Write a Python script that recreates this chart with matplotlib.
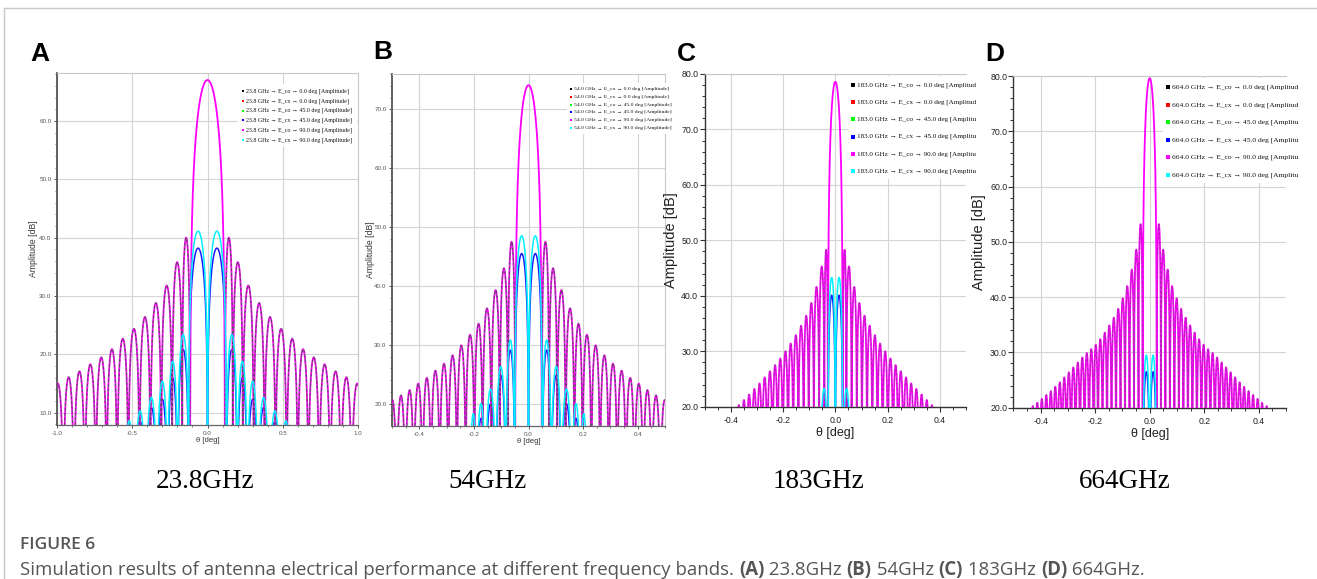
import numpy as np
import matplotlib
matplotlib.use("Agg")
import matplotlib.pyplot as plt
from matplotlib.ticker import MultipleLocator, FormatStrFormatter
from matplotlib.patches import Rectangle
from matplotlib.lines import Line2D
from matplotlib import font_manager

# ---------------- data ----------------
# Panel A : 23.8 GHz
A_main_peak = 67.0
A_main_null = 0.116
A_co_nulls = [0.116, 0.168, 0.235, 0.307, 0.379, 0.452, 0.526, 0.600, 0.670, 0.742, 0.815, 0.887, 0.958, 1.030]
A_co_peaks = [40.0, 35.8, 31.8, 28.8, 26.4, 24.4, 22.7, 20.9, 19.5, 18.3, 17.1, 16.1, 15.0]
A_cx_nulls = [0.0, 0.125, 0.198, 0.265, 0.335, 0.410, 0.485, 0.555]
A_cx90_peaks = [41.1, 23.4, 18.8, 15.4, 12.6, 10.3, 8.6]
A_cx45_peaks = [38.2, 20.8, 16.0, 12.3, 10.9, 8.5, 7.0]

# Panel B : 54 GHz
B_main_peak = 74.1
B_main_null = 0.049
B_co_nulls = [0.049, 0.075, 0.105, 0.136, 0.168, 0.198, 0.230, 0.262, 0.294, 0.325, 0.357, 0.388, 0.420, 0.451, 0.483, 0.514]
B_co_peaks = [47.5, 43.0, 39.3, 36.2, 33.6, 31.7, 29.9, 28.2, 26.8, 25.6, 24.4, 23.4, 22.3, 21.4, 20.6]
B_cx_nulls = [0.0, 0.050, 0.083, 0.120, 0.158, 0.190, 0.215]
B_cx90_peaks = [48.5, 30.8, 26.3, 22.5, 20.0, 18.3]
B_cx45_peaks = [45.5, 29.1, 24.8, 20.0, 17.5, 16.0]

# Panel C : 183 GHz
C_main_peak = 78.6
C_main_null = 0.0285
C_co_nulls = [0.0285, 0.042, 0.062, 0.082, 0.1015, 0.121, 0.141, 0.161, 0.1805, 0.2005, 0.2205,
              0.240, 0.260, 0.280, 0.2995, 0.3195, 0.3395, 0.359, 0.379]
C_co_peaks = [48.3, 45.3, 41.6, 38.7, 36.4, 34.6, 32.9, 31.4, 30.0, 28.7, 27.5, 26.4, 25.3, 24.2,
              23.2, 22.2, 21.2, 20.3]
C_cx_nulls = [0.0, 0.028, 0.058]
C_cx90_peaks = [43.3, 23.3]
C_cx45_peaks = [40.1, 21.5]

# Panel D : 664 GHz
D_main_peak = 79.6
D_main_null = 0.026
D_co_nulls = [0.026, 0.041, 0.0575, 0.074, 0.0905, 0.107, 0.1235, 0.140, 0.1565, 0.173, 0.1895,
              0.206, 0.2225, 0.239, 0.2555, 0.272, 0.2885, 0.305, 0.3215, 0.338, 0.3545, 0.371,
              0.3875, 0.404, 0.4205, 0.437]
D_co_peaks = [53.2, 48.6, 45.0, 42.0, 39.8, 37.9, 36.3, 34.9, 33.6, 32.4, 31.4, 30.6, 29.9, 29.1,
              28.2, 27.3, 26.4, 25.5, 24.6, 23.8, 23.0, 22.3, 21.6, 20.9, 20.3]
D_cx_nulls = [0.0, 0.025]
D_cx90_peaks = [29.5]
D_cx45_peaks = [26.5]

freq_labels = ["23.8", "54.0", "183.0", "664.0"]
sub_captions = ["23.8GHz", "54GHz", "183GHz", "664GHz"]
panel_letters = ["A", "B", "C", "D"]
series_names = ["E_co \u2192 0.0", "E_cx \u2192 0.0", "E_co \u2192 45.0",
                "E_cx \u2192 45.0", "E_co \u2192 90.0", "E_cx \u2192 90.0"]
series_colors = ["#000000", "#ff0000", "#00ff00", "#0000ff", "#ff00ff", "#00ffff"]
# the legend text in C and D is cut off by the plotting tool
legend_tail_full = ["[Amplitude]"] * 6
legend_tail_cut = ["[Amplitud", "[Amplitud", "[Amplitu", "[Amplitu", "[Amplitu", "[Amplitu"]

# ---------------- rendering helpers ----------------
W, H = 1317, 579
fig = plt.figure(figsize=(W / 100, H / 100), dpi=100)
fig.patch.set_facecolor("white")
renderer = fig.canvas.get_renderer()


def rect(l, r, t, b):
    return [l / W, 1 - b / H, (r - l) / W, (b - t) / H]


def lobes(xa, nulls, peaks, out):
    for i, p in enumerate(peaks):
        a, b = nulls[i], nulls[i + 1]
        m = (xa >= a) & (xa <= b)
        t = (xa[m] - a) / (b - a)
        out[m] = p + 20 * np.log10(np.clip(np.sin(np.pi * t), 1e-4, 1))
    return out


def pattern_co(x, peak, null, nulls, peaks, k=1.6):
    xa = np.abs(x)
    y = np.full_like(x, np.nan)
    m = xa <= null
    t = (x[m] + null) / (2 * null)
    y[m] = peak + k * 20 * np.log10(np.clip(np.sin(np.pi * t), 1e-4, 1))
    return lobes(xa, nulls, peaks, y)


def pattern_cx(x, nulls, peaks):
    return lobes(np.abs(x), nulls, peaks, np.full_like(x, np.nan))


def fig_text(px, py, s, **kw):
    return fig.text(px / W, 1 - py / H, s, **kw)


def fit_width(t, target):
    w = t.get_window_extent(renderer=renderer).width
    t.set_fontsize(t.get_fontsize() * target / w)


panels = [
    dict(r=rect(57, 358, 73, 425), xlim=(-1.0, 1.0), ylim=(7.9, 68.2),
         mp=A_main_peak, mn=A_main_null, cn=A_co_nulls, cp=A_co_peaks,
         xn=A_cx_nulls, x90=A_cx90_peaks, x45=A_cx45_peaks, k=1.6,
         small=True, xmaj=0.5, xmin=0.1,
         leg=(243, 91, 9.8, 103, 1.8), box=(238, 84, 357, 146), lw=1.1),
    dict(r=rect(392, 665, 74, 426), xlim=(-0.5, 0.5), ylim=(16.2, 76.0),
         mp=B_main_peak, mn=B_main_null, cn=B_co_nulls, cp=B_co_peaks,
         xn=B_cx_nulls, x90=B_cx90_peaks, x45=B_cx45_peaks, k=1.6,
         small=True, xmaj=0.2, xmin=0.05,
         leg=(571, 89, 7.8, 94, 1.8), box=(567, 83, 668, 134), lw=1.1),
    dict(r=rect(704.5, 966.2, 74, 406.7), xlim=(-0.5, 0.5), ylim=(20, 80),
         mp=C_main_peak, mn=C_main_null, cn=C_co_nulls, cp=C_co_peaks,
         xn=C_cx_nulls, x90=C_cx90_peaks, x45=C_cx45_peaks, k=1.7,
         small=False, xmaj=0.2, xmin=0.05,
         leg=(853, 85, 17.2, 121, 3.2), box=(848, 76, 980, 179), lw=1.1),
    dict(r=rect(1013.4, 1286, 76, 407.7), xlim=(-0.5, 0.5), ylim=(20, 80),
         mp=D_main_peak, mn=D_main_null, cn=D_co_nulls, cp=D_co_peaks,
         xn=D_cx_nulls, x90=D_cx90_peaks, x45=D_cx45_peaks, k=1.7,
         small=False, xmaj=0.2, xmin=0.05,
         leg=(1168, 87.3, 17.5, 126, 3.2), box=(1163, 78, 1300, 183), lw=1.1),
]

SERIF = ["Liberation Serif", "DejaVu Serif"]
SANS = ["Liberation Sans", "DejaVu Sans"]

for i, P in enumerate(panels):
    ax = fig.add_axes(P["r"])
    x = np.linspace(P["xlim"][0], P["xlim"][1], 40001)
    co = pattern_co(x, P["mp"], P["mn"], P["cn"], P["cp"], P["k"])
    c90 = pattern_cx(x, P["xn"], P["x90"])
    c45 = pattern_cx(x, P["xn"], P["x45"])
    side = np.where(np.abs(x) > P["mn"], co, np.nan)

    ax.plot(x, c45, color="#1a1aff", lw=P["lw"], zorder=2)
    ax.plot(x, co, color="#ff00ff", lw=P["lw"] + 0.2, zorder=3)
    da = 0.7 if P["small"] else 0.3
    ax.plot(x, side, color="#00c000", lw=0.7, ls=(1.5, (2.0, 3.0)), alpha=da, zorder=3.2)
    ax.plot(x, side, color="#333333", lw=0.7, ls=(0, (2.0, 3.0)), alpha=da, zorder=3.3)
    ax.plot(x, c90, color="#00f0ff", lw=P["lw"], zorder=4)

    ax.set_xlim(*P["xlim"])
    ax.set_ylim(*P["ylim"])
    ax.grid(True, color="#d4d4d4", lw=0.8, zorder=0)
    ax.set_axisbelow(True)
    ax.xaxis.set_major_locator(MultipleLocator(P["xmaj"]))
    ax.xaxis.set_minor_locator(MultipleLocator(P["xmin"]))
    ax.yaxis.set_major_locator(MultipleLocator(10))
    ax.yaxis.set_minor_locator(MultipleLocator(2))
    ax.xaxis.set_major_formatter(FormatStrFormatter("%.1f"))
    ax.yaxis.set_major_formatter(FormatStrFormatter("%.1f"))
    for s in ["top", "right"]:
        ax.spines[s].set_color("#c8c8c8")
        ax.spines[s].set_linewidth(0.8)
    if P["small"]:
        ax.spines["left"].set_color("#555555")
        ax.spines["left"].set_linewidth(1.3)
        ax.spines["bottom"].set_color("#666666")
        ax.spines["bottom"].set_linewidth(0.9)
        ax.tick_params(which="major", length=2.5, width=0.7, color="#555555",
                       labelsize=4.5, labelcolor="#555555", pad=1.5)
        ax.tick_params(which="minor", length=1.5, width=0.6, color="#666666")
        for lab in ax.get_xticklabels() + ax.get_yticklabels():
            lab.set_family(SANS)
        ax.set_ylabel("Amplitude [dB]", fontsize=6.2, color="#333333", family=SANS)
        ax.set_xlabel("\u03b8 [deg]", fontsize=5.5, color="#333333", family=SANS, labelpad=1)
        ax.yaxis.set_label_coords(-0.062, 0.5)
        tails = legend_tail_full
    else:
        ax.spines["right"].set_visible(False)
        ax.spines["left"].set_color("#333333")
        ax.spines["left"].set_linewidth(1.0)
        ax.spines["bottom"].set_color("#333333")
        ax.spines["bottom"].set_linewidth(1.0)
        ax.tick_params(which="major", length=3.5, width=0.8, color="#333333",
                       labelsize=6.3, labelcolor="#222222", pad=1.0)
        ax.tick_params(which="minor", length=2.0, width=0.7, color="#333333")
        ax.tick_params(axis="x", which="major", pad=3.5)
        for lab in ax.get_xticklabels() + ax.get_yticklabels():
            lab.set_family(SANS)
        ax.set_ylabel("Amplitude [dB]", fontsize=10.5, color="#222222", family=SANS)
        ax.set_xlabel("\u03b8 [deg]", fontsize=9, color="#222222", family=SANS, labelpad=1)
        ax.yaxis.set_label_coords(-0.10, 0.5)
        tails = legend_tail_cut

    # legend (drawn as in the source tool: coloured squares + text)
    bx0, by0, bx1, by1 = P["box"]
    fig.add_artist(Rectangle((bx0 / W, 1 - by1 / H), (bx1 - bx0) / W, (by1 - by0) / H,
                             transform=fig.transFigure, facecolor="white", edgecolor="none",
                             zorder=5))
    lx, ly, dy, tw, ms = P["leg"]
    fs = None
    for j, (nm, col) in enumerate(zip(series_names, series_colors)):
        yy = 1 - (ly + j * dy) / H
        fig.add_artist(Line2D([lx / W], [yy], marker="s", ms=ms, color=col, mew=0,
                              transform=fig.transFigure, zorder=6))
        t = fig.text(lx / W + (ms * 0.9 + 1.5) / W, yy,
                     f"{freq_labels[i]} GHz \u2192 {nm} deg {tails[j]}",
                     fontsize=5, va="center", ha="left",
                     family=SERIF, color="#111111", zorder=6)
        if fs is None:
            fit_width(t, tw)
            fs = t.get_fontsize()
        else:
            t.set_fontsize(fs)

# panel letters
for (px, py), L in zip([(30, 61), (373, 59), (677, 61), (985, 61)], panel_letters):
    fig_text(px, py, L, fontsize=19, fontweight="bold", family=SANS, va="baseline")

# sub captions
for cx, s in zip([205, 488, 818, 1125], sub_captions):
    fig_text(cx, 488, s, fontsize=19.5, family=SERIF, ha="center", va="baseline")

# page border lines
fig.add_artist(Line2D([4 / W, 4 / W], [0, 1 - 8 / H], transform=fig.transFigure,
                      color="#c8c8c8", lw=1.0))
fig.add_artist(Line2D([4 / W, 1], [1 - 8 / H, 1 - 8 / H], transform=fig.transFigure,
                      color="#c8c8c8", lw=1.0))

# caption (narrow sans if available)
names = {f.name for f in font_manager.fontManager.ttflist}
CAPF = ["Liberation Sans Narrow", "DejaVu Sans"] if "Liberation Sans Narrow" in names \
    else ["Open Sans", "DejaVu Sans"]
ft = fig_text(20, 549, "FIGURE 6", fontsize=11.5, family=CAPF, color="#555555",
              fontweight="bold" if "Narrow" in CAPF[0] else "semibold", va="baseline")
fit_width(ft, 75)
parts = [("Simulation results of antenna electrical performance at different frequency bands. ", "normal"),
         ("(A)", "bold"), (" 23.8GHz ", "normal"), ("(B)", "bold"), (" 54GHz ", "normal"),
         ("(C)", "bold"), (" 183GHz ", "normal"), ("(D)", "bold"), (" 664GHz.", "normal")]
base = 10.0
tot = 0.0
for s, wgt in parts:
    t = fig_text(0, 0, s, fontsize=base, family=CAPF, fontweight=wgt)
    tot += t.get_window_extent(renderer=renderer).width
    t.remove()
capfs = min(base * 1123.0 / tot, 13.5)
xc = 20.0
for s, wgt in parts:
    t = fig_text(xc, 575, s, fontsize=capfs, family=CAPF, color="#555555",
                 fontweight=wgt, va="baseline")
    xc += t.get_window_extent(renderer=renderer).width

fig.savefig("out.png", dpi=100, facecolor="white")
